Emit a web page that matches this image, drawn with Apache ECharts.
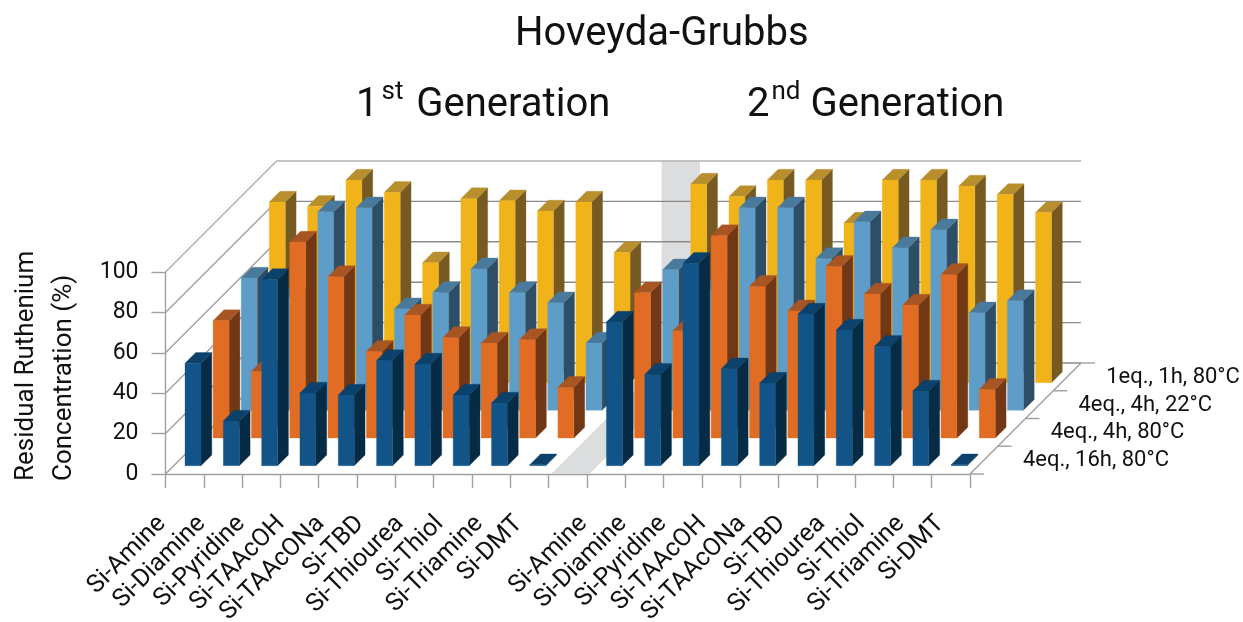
<!DOCTYPE html>
<html>
<head>
<meta charset="utf-8">
<style>html,body{margin:0;padding:0;background:#fff}#c{width:1243px;height:622px}</style>
<script src="https://cdn.jsdelivr.net/npm/echarts@6/dist/echarts.min.js"></script>
</head>
<body>
<div id="c"></div>
<script>
const tickLabels = ['Si-Amine','Si-Diamine','Si-Pyridine','Si-TAAcOH','Si-TAAcONa','Si-TBD','Si-Thiourea','Si-Thiol','Si-Triamine','Si-DMT','',
  'Si-Amine','Si-Diamine','Si-Pyridine','Si-TAAcOH','Si-TAAcONa','Si-TBD','Si-Thiourea','Si-Thiol','Si-Triamine','Si-DMT',''];
const yTicks = [0,20,40,60,80,100];
const rowLabels = ['4eq., 16h, 80°C','4eq., 4h, 80°C','4eq., 4h, 22°C','1eq., 1h, 80°C'];
const values16h80 = [50.7,22.1,92.2,36,35,52.1,50.3,35,31,0.5,null,71.1,45.2,100.2,48,40.9,75.1,67.2,59.1,37,0.5];
const values4h80  = [58.1,33,97,80,42.9,60.9,49.8,47,48.8,25.1,null,71.9,53.1,100.2,75.1,63,85,71.3,65.8,81,24.1];
const values4h22  = [65.5,56,98.3,100.3,50.3,58.3,70.1,58.3,53.3,33.3,null,69.6,60,100.3,100.3,75.2,93.4,80.5,89.4,48.3,54.3];
const values1h80  = [89.4,87.3,100.3,94.2,59.4,91.1,90.1,85,89.4,64.4,null,98.3,92.2,100.3,100.3,79,100.3,100.3,97.4,93.2,84.2];
const bandCategory = [10];

const FONT = 'Roboto';
const INK = '#111111';
const AXIS = '#a0a0a0', GRID = '#8a8a8a';
const DEPTH = 111, BARW = 16, BARD = 10.8;
const rowDX = r => 8.35 + 28.1 * r;
const rowDY = r => 8.3 + 27.67 * r;
const palettes = [
  {front:'#125487', side:'#062b44', top:'#0b416a', name:rowLabels[0], data:values16h80},
  {front:'#e06d23', side:'#723714', top:'#a85524', name:rowLabels[1], data:values4h80},
  {front:'#5f9dc9', side:'#2d4e66', top:'#4a7a9b', name:rowLabels[2], data:values4h22},
  {front:'#f0b31a', side:'#775a22', top:'#b98e2d', name:rowLabels[3], data:values1h80}
];

function barRenderer(r, p) {
  return function (params, api) {
    const i = api.value(0), v = api.value(1);
    const a = api.coord([i, 0]), b = api.coord([i + 1, 0]), t = api.coord([i, v]);
    const cx = (a[0] + b[0]) / 2 + rowDX(r);
    const by = a[1] - rowDY(r);
    const ty = by - (a[1] - t[1]);
    const x0 = cx - BARW / 2, x1 = cx + BARW / 2;
    const poly = (pts, fill) => ({type:'polygon', shape:{points:pts}, style:{fill:fill, stroke:fill, lineWidth:0.3}});
    return {type:'group', children:[
      poly([[x1,by],[x1+BARD,by-BARD],[x1+BARD,ty-BARD],[x1,ty]], p.side),
      poly([[x0,ty],[x1,ty],[x1+BARD,ty-BARD],[x0+BARD,ty-BARD]], p.top),
      poly([[x0,by],[x1,by],[x1,ty],[x0,ty]], p.front)
    ]};
  };
}

const line = (x1,y1,x2,y2,c,w) => ({type:'line', shape:{x1,y1,x2,y2}, style:{stroke:c, lineWidth:w||1.4}});

const bandSeries = {
  type:'custom', silent:true, z:1, clip:false, encode:{x:0},
  data: bandCategory.map(c => [c]),
  renderItem(params, api) {
    const i = api.value(0);
    const a = api.coord([i, 0]), b = api.coord([i + 1, 0]), t = api.coord([i, 100]);
    const h = a[1] - t[1];
    const o = 2.5;
    const pts = [[a[0]+o,a[1]],[b[0]+o,b[1]],[b[0]+o+DEPTH,b[1]-DEPTH],[a[0]+o+DEPTH,a[1]-DEPTH]];
    return {type:'group', children:[
      {type:'polygon', shape:{points:pts}, style:{fill:'#dcddde'}},
      {type:'rect', shape:{x:a[0]+o+DEPTH-0.5, y:a[1]-DEPTH-h, width:b[0]-a[0], height:h}, style:{fill:'#dcddde'}}
    ]};
  }
};

const wallSeries = {
  type:'custom', silent:true, z:2, clip:false, encode:{y:0},
  data: yTicks.map(v => [v]),
  renderItem(params, api) {
    const v = api.value(0);
    const p = api.coord([0, v]), q = api.coord([21, v]);
    return {type:'group', children:[
      line(p[0],p[1],p[0]+DEPTH,p[1]-DEPTH, v===100?'#b0b0b0':AXIS),
      line(p[0]+DEPTH,p[1]-DEPTH,q[0]+DEPTH,q[1]-DEPTH, v===100?'#b0b0b0':GRID)
    ]};
  }
};

const depthSeries = {
  type:'custom', silent:true, z:3, clip:false, encode:{x:0},
  data: [0,1,2,3,4].map(k => [k]),
  renderItem(params, api) {
    const k = api.value(0);
    const e = api.coord([21, 0]);
    const s = DEPTH / 4 * k;
    const kids = [line(e[0]+s, e[1]-s, e[0]+s+14, e[1]-s, AXIS)];
    if (k === 0) kids.push(line(e[0], e[1], e[0]+DEPTH, e[1]-DEPTH, AXIS));
    if (k < 4) {
      kids.push({type:'text', style:{text:rowLabels[k], x:e[0]+s+53, y:e[1]-s-13.5,
        fill:INK, font:'22px "'+FONT+'"', textAlign:'left', textVerticalAlign:'middle'}});
    }
    return {type:'group', children:kids};
  }
};

// category labels: the reference's slanted labels spread a little wider than the ticks inside each group
const xLabelSeries = {
  type:'custom', silent:true, z:4, clip:false, encode:{x:0},
  data: tickLabels.map((t, i) => [i]).filter(d => tickLabels[d[0]] !== ''),
  renderItem(params, api) {
    const i = api.value(0);
    const a = api.coord([i, 0]);
    return {type:'text', x:a[0] - 3.5 + (i % 11) * 1.35, y:a[1] + 46, rotation:Math.PI / 4,
      style:{text:tickLabels[i], font:'25px "'+FONT+'"', fill:INK, textAlign:'right', textVerticalAlign:'middle'}};
  }
};

const barSeries = [3,2,1,0].map(r => ({
  type:'custom', name:palettes[r].name, z:10 + (3 - r), clip:false, silent:true,
  encode:{x:0, y:1},
  data: palettes[r].data.map((v, i) => [i, v]).filter(d => d[1] !== null),
  renderItem: barRenderer(r, palettes[r])
}));

const subStyle = {fontFamily:FONT, fontSize:40, fontWeight:400, color:INK,
  rich:{
    m:{fontFamily:FONT, fontSize:40, fontWeight:400, lineHeight:47, verticalAlign:'bottom', color:INK},
    s:{fontFamily:FONT, fontSize:26, fontWeight:400, lineHeight:26, verticalAlign:'top', padding:[0,3,30,3], color:INK},
    n:{fontFamily:FONT, fontSize:26, fontWeight:400, lineHeight:26, verticalAlign:'top', padding:[0,0,30,2], color:INK}}};

const chart = echarts.init(document.getElementById('c'), null, {renderer:'canvas'});
chart.setOption({
  animation:false,
  backgroundColor:'#fff',
  textStyle:{fontFamily:FONT, color:INK},
  title:[
    {text:'Hoveyda-Grubbs', left:510, top:10, textStyle:{fontFamily:FONT, fontSize:40, fontWeight:400, color:INK}},
    {text:'{m|1}{s|st}{m| Generation}', left:351, top:74, textStyle:subStyle},
    {text:'{m|2}{n|nd}{m| Generation}', left:742, top:74, textStyle:subStyle}
  ],
  grid:{left:165.5, right:1243-970, top:272, height:202, outerBoundsMode:'none'},
  xAxis:{type:'category', data:tickLabels, boundaryGap:false,
    axisLine:{lineStyle:{color:AXIS, width:1.4}},
    axisTick:{show:true, length:14, alignWithLabel:true, interval:0, lineStyle:{color:AXIS, width:1.4}},
    axisLabel:{show:false},
    splitLine:{show:false}},
  yAxis:{type:'value', min:0, max:100, interval:20,
    axisLine:{show:true, lineStyle:{color:AXIS, width:1.4}},
    axisTick:{show:true, length:14, lineStyle:{color:AXIS, width:1.4}},
    axisLabel:{margin:27, fontSize:23, color:INK, fontFamily:FONT},
    splitLine:{show:false}},
  graphic:[{type:'text', x:7, y:481, rotation:Math.PI/2,
    style:{text:'Residual Ruthenium\nConcentration (%)', font:'26px "'+FONT+'"', fill:INK, textAlign:'left', textVerticalAlign:'top', lineHeight:38}}],
  series:[bandSeries, wallSeries, depthSeries, xLabelSeries].concat(barSeries)
});
</script>
</body>
</html>
